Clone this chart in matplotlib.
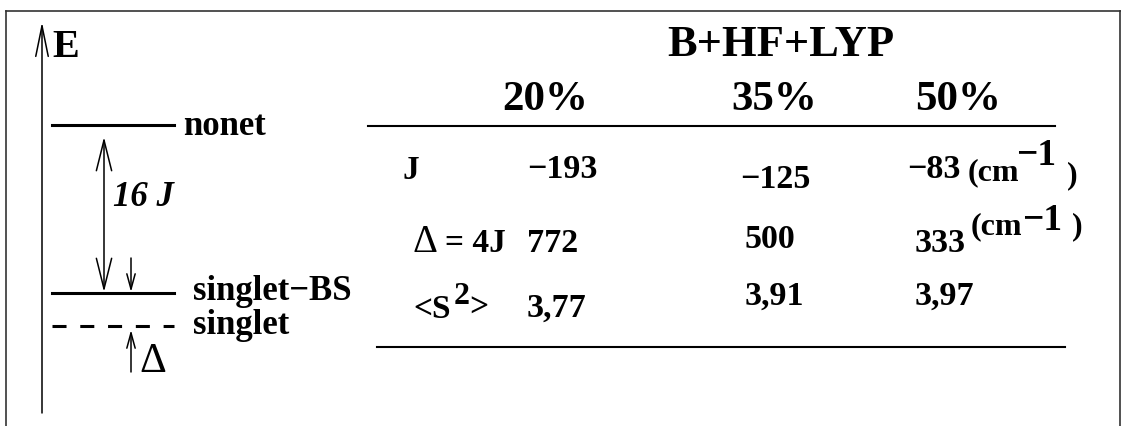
import matplotlib
matplotlib.use('Agg')
import matplotlib.pyplot as plt

plt.rcParams['lines.scale_dashes'] = False

# table contents
method = 'B+HF+LYP'
columns = ['20%', '35%', '50%']
row_labels = ['J', '= 4J', '<S']
j_values = ['−193', '−125', '−83']
delta_values = ['772', '500', '333']
s2_values = ['3,77', '3,91', '3,97']
unit = '(cm'
unit_exp = '−1'

# energy level diagram
levels = ['nonet', 'singlet−BS', 'singlet']
gap_label = '16 J'

W, H = 1121, 426
fig = plt.figure(figsize=(W / 100, H / 100), dpi=100)
ax = fig.add_axes([0, 0, 1, 1])
ax.set_xlim(0, W)
ax.set_ylim(H, 0)
ax.axis('off')

serif = 'Liberation Serif'


def txt(x, y, s, size, **kw):
    kw.setdefault('weight', 'bold')
    kw.setdefault('ha', 'left')
    ax.text(x, y, s, fontsize=size, family=serif, va='baseline', **kw)


def arrow(x0, y0, x1, y1, style, hl, hw):
    ax.annotate('', xy=(x1, y1), xytext=(x0, y0),
                arrowprops=dict(arrowstyle=f'{style},head_length={hl},head_width={hw}',
                                lw=1.1, color='black', shrinkA=0, shrinkB=0,
                                mutation_scale=10))


# frame
ax.plot([6, 6], [H, 11], color='#333333', lw=1.2)
ax.plot([6, W], [11, 11], color='#333333', lw=1.2)
ax.plot([W - 1, W - 1], [11, H], color='#333333', lw=1.2)

# energy axis
arrow(42, 413, 42, 22, '->', 2.2, 0.45)
txt(52, 57, 'E', 29)

# levels
level_y = [125, 293, 326]
ax.plot([52, 174], [level_y[0], level_y[0]], color='black', lw=2.2)
ax.plot([52, 174], [level_y[1], level_y[1]], color='black', lw=2.2)
ax.plot([52, 174], [level_y[2], level_y[2]], color='black', lw=2.2,
        dashes=(10.1, 9.9))
txt(183, 135, levels[0], 25)
txt(193, 300, levels[1], 25)
txt(193, 334, levels[2], 25)

# gaps
arrow(104, 292, 104, 137, '<->', 2.2, 0.55)
txt(113, 206, gap_label, 25, style='italic')
arrow(131, 258, 131, 292, '->', 1.1, 0.3)
arrow(131, 372, 131, 330, '->', 1.1, 0.3)
txt(139, 372, 'Δ', 30, weight='normal')

# table header
txt(781, 56, method, 32, ha='center')
for x, c in zip([502, 731, 915], columns):
    txt(x, 110, c, 31)
ax.plot([368, 1055], [126, 126], color='black', lw=1.5)

# rows
txt(403, 179, row_labels[0], 24)
txt(412, 252, 'Δ', 28, weight='normal')
txt(445, 252, row_labels[1], 24)
txt(413, 318, row_labels[2], 24)
txt(454, 304, '2', 23)
txt(469, 317, '>', 24)

for x, y, v in zip([527, 740, 907], [178, 188, 178], j_values):
    txt(x, y, v, 24.5)
for x, y, v in zip([527, 745, 915], [252, 248, 252], delta_values):
    txt(x, y, v, 24.5)
for x, y, v in zip([527, 745, 915], [317, 305, 305], s2_values):
    txt(x, y, v, 24.5)

# units
txt(968, 180, unit, 23)
txt(1016, 165, unit_exp, 27)
txt(1067, 183, ')', 23)
txt(971, 234, unit, 23)
txt(1022, 230, unit_exp, 27)
txt(1072, 234, ')', 23)

ax.plot([377, 1065], [347, 347], color='black', lw=1.5)

fig.savefig('out.png', dpi=100)
